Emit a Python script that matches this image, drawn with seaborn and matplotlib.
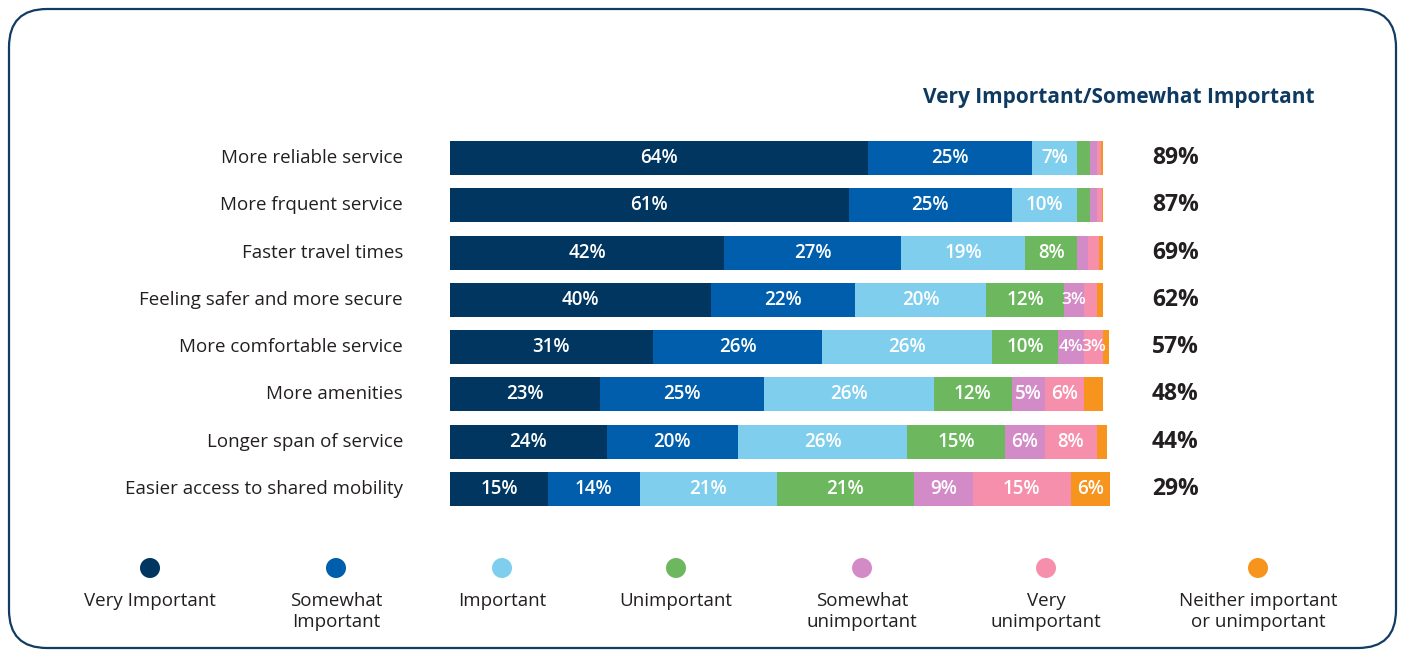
import matplotlib
matplotlib.use("Agg")
import matplotlib.pyplot as plt
from matplotlib.patches import FancyBboxPatch, Ellipse
import numpy as np
import pandas as pd
import seaborn as sns

# Survey data: share of respondents by importance rating
categories = [
    "More reliable service",
    "More frquent service",
    "Faster travel times",
    "Feeling safer and more secure",
    "More comfortable service",
    "More amenities",
    "Longer span of service",
    "Easier access to shared mobility",
]
ratings = [
    "Very Important",
    "Somewhat\nImportant",
    "Important",
    "Unimportant",
    "Somewhat\nunimportant",
    "Very\nunimportant",
    "Neither important\nor unimportant",
]
very_important = [64, 61, 42, 40, 31, 23, 24, 15]
somewhat_important = [25, 25, 27, 22, 26, 25, 20, 14]
important = [7, 10, 19, 20, 26, 26, 26, 21]
unimportant = [2, 2, 8, 12, 10, 12, 15, 21]
somewhat_unimportant = [1, 1, 1.7, 3, 4, 5, 6, 9]
very_unimportant = [0.6, 0.7, 1.6, 2, 3, 6, 8, 15]
neither = [0.4, 0.3, 0.7, 1, 0.8, 2.9, 1.5, 6]
top_two = ["89%", "87%", "69%", "62%", "57%", "48%", "44%", "29%"]

colors = ["#003660", "#005EAC", "#7FCEEE", "#6DB85E", "#D38BC8", "#F68FAB", "#F7941E"]
series = [very_important, somewhat_important, important, unimportant,
          somewhat_unimportant, very_unimportant, neither]

FONT = "Open Sans"
plt.rcParams["font.family"] = [FONT, "DejaVu Sans"]
TEXT = "#231F20"

W, H = 1405, 652
fig = plt.figure(figsize=(W / 100, H / 100), dpi=100)

# axes placement in pixels
ax_left, ax_right = 450, 1110
row_top, row_bottom = 158, 489
n = len(categories)
step = (row_bottom - row_top) / (n - 1)
ax_top_px = row_top - step / 2
ax_bot_px = row_bottom + step / 2
ax = fig.add_axes([ax_left / W, 1 - ax_bot_px / H,
                   (ax_right - ax_left) / W, (ax_bot_px - ax_top_px) / H])

values = np.array(series)  # shape (ratings, categories)
cum = np.cumsum(values, axis=0)
df = pd.DataFrame({"category": categories})

# stacked bars: draw cumulative totals from the widest down
for i in range(len(series) - 1, -1, -1):
    df["total"] = cum[i]
    sns.barplot(data=df, x="total", y="category", orient="h", color=colors[i],
                saturation=1, width=0.72, ax=ax, linewidth=0, order=categories)

# segment labels (slightly smaller in the narrowest segments)
for i in range(len(series)):
    for j in range(n):
        v = values[i, j]
        if v >= 3:
            xc = cum[i, j] - v / 2
            ax.text(xc, j, f"{v:.0f}%", ha="center", va="center",
                    color="white", fontsize=13.5 if v >= 5 else 12.5,
                    fontweight="semibold")

ax.set_xlim(0, 101)
ax.set_ylim(n - 0.5, -0.5)
ax.axis("off")

# category labels and top-two-box totals
for j, cat in enumerate(categories):
    ypx = row_top + j * step
    fig.text(403 / W, 1 - ypx / H, cat, ha="right", va="center",
             fontsize=13.5, color=TEXT)
    fig.text(1152 / W, 1 - ypx / H, top_two[j], ha="left", va="center",
             fontsize=16.5, fontweight="bold", color=TEXT)

fig.text(1119 / W, 1 - 97 / H, "Very Important/Somewhat Important",
         ha="center", va="center", fontsize=15, fontweight="bold",
         color="#0E3A62")

# legend
leg_x = [150, 336, 502, 676, 862, 1046, 1258]
for x, lab, c in zip(leg_x, ratings, colors):
    fig.patches.append(Ellipse((x, H - 568), 20, 20, transform=None,
                               facecolor=c, edgecolor="none"))
    fig.text(x / W, 1 - 592 / H, lab, ha="center", va="top",
             fontsize=13.5, color=TEXT, linespacing=1.2)

# rounded frame
frame = FancyBboxPatch((9, 4), W - 18, H - 13,
                       boxstyle="round,pad=0,rounding_size=38",
                       transform=None, facecolor="none",
                       edgecolor="#123C63", linewidth=1.6)
fig.patches.append(frame)

fig.savefig("out.png", dpi=100, facecolor="white")
